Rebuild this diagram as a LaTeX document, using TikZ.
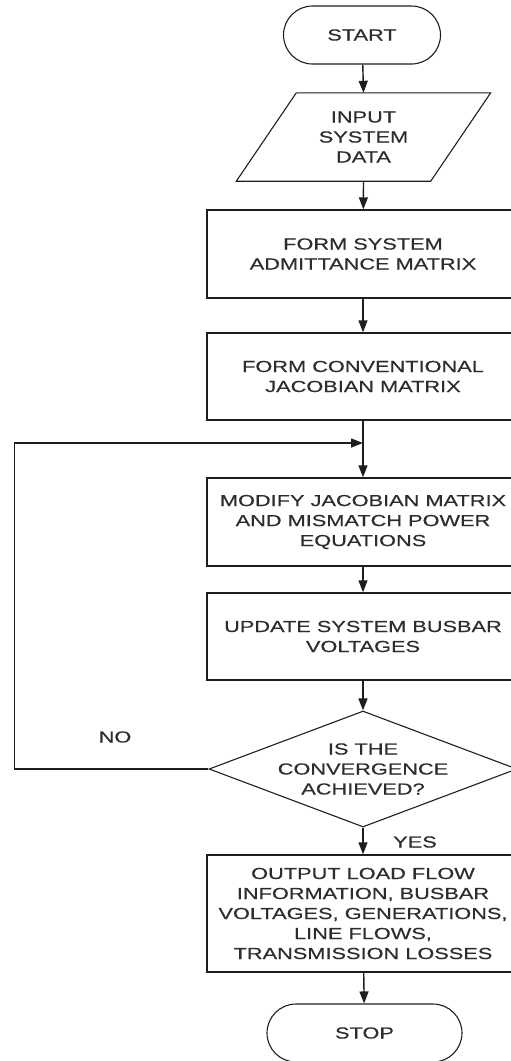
\documentclass[tikz,border=0pt]{standalone}
\usepackage{fontspec}
\setmainfont{Liberation Sans}[FakeStretch=1.36, FakeBold=0.4]
\usetikzlibrary{arrows.meta,calc,shapes.geometric}
\definecolor{inkgray}{RGB}{45,45,45}
\definecolor{linegray}{RGB}{30,30,30}

\begin{document}
\begin{tikzpicture}[x=1pt, y=-1pt, line join=miter,
  every node/.style={font=\fontsize{16}{20}\selectfont, text=inkgray, align=center},
  termnode/.style={draw=linegray, line width=1.1pt, rounded corners=29pt, minimum width=157pt, minimum height=58pt, inner sep=0pt},
  procbox/.style={draw=linegray, line width=1.4pt, minimum width=312pt, inner sep=0pt},
  iobox/.style={minimum width=194pt, minimum height=88pt, inner sep=0pt},
  decbox/.style={draw=linegray, diamond, line width=1.1pt, aspect=2.65, minimum width=308pt, minimum height=116pt, inner sep=0pt},
  flowarrow/.style={draw=linegray, -{Triangle[length=12pt,width=9pt]}, line width=1.4pt}]

\useasboundingbox (0,0) rectangle (511,1061);
\clip (0,0) rectangle (511,1061);

% ============ START / INPUT ============
\node[termnode] (Start) at (362,35) {START};
\node[iobox] (Input) at (363.5,137) {INPUT\\SYSTEM\\DATA};
% slanted input/output symbol round the text node
\draw[linegray, line width=1.1pt] ($(Input.north west)+(30,0)$) -- ($(Input.north east)+(30,0)$)
  -- ($(Input.south east)+(-30,0)$) -- ($(Input.south west)+(-30,0)$) -- cycle;

% ============ PROCESS BOXES (right side runs past the page edge) ============
\node[procbox, minimum height=88pt] (Admit) at (363,254) {FORM SYSTEM\\ADMITTANCE MATRIX};
\node[procbox, minimum height=87pt] (Jacob) at (363,376.5) {FORM CONVENTIONAL\\JACOBIAN MATRIX};
\node[procbox, minimum height=88pt] (Modify) at (363,522) {MODIFY JACOBIAN MATRIX\\AND MISMATCH POWER\\EQUATIONS};
\node[procbox, minimum height=87pt] (Update) at (363,636.5) {UPDATE SYSTEM BUSBAR\\VOLTAGES};

% ============ DECISION ============
\node[decbox] (Conv) at (363,769) {IS THE\\CONVERGENCE\\ACHIEVED?};

% ============ OUTPUT / STOP ============
\node[procbox, minimum height=117pt] (Output) at (363,913.5) {OUTPUT LOAD FLOW\\INFORMATION, BUSBAR\\VOLTAGES, GENERATIONS,\\LINE FLOWS,\\TRANSMISSION LOSSES};
\node[termnode, minimum width=195pt] (Stop) at (364.5,1033) {STOP};

% ============ CONNECTORS ============
\draw[flowarrow] (Start) -- (Input.north);
\draw[flowarrow] (Input.south) -- (Admit);
\draw[flowarrow] (Admit) -- (Jacob);
\draw[flowarrow] (Jacob) -- (Modify);
\draw[flowarrow] (Modify) -- (Update);
\draw[flowarrow] (Update) -- (Conv);
\draw[flowarrow] (Conv) -- (Output);
\draw[flowarrow] (Output) -- (Stop);

% feedback loop back into the main line above the modify step
\coordinate (Join) at (363,443);
\draw[flowarrow] (Conv.west) -- ++(-194,0) |- (Join);

\node (NoLbl) at (115,737) {NO};
\node (YesLbl) at (415,842) {YES};
\end{tikzpicture}
\end{document}
